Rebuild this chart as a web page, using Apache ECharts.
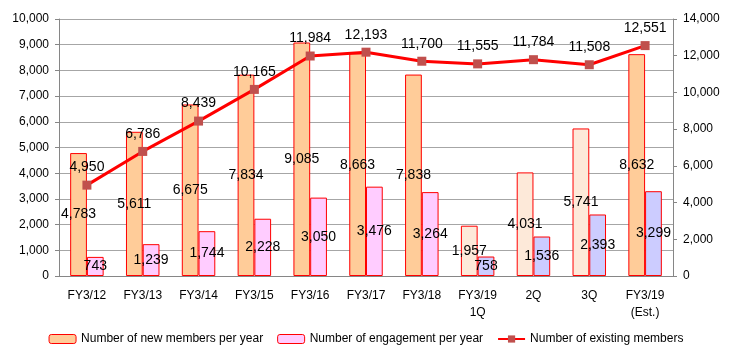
<!DOCTYPE html>
<html>
<head>
<meta charset="utf-8">
<script src="https://cdn.jsdelivr.net/npm/echarts@6/dist/echarts.min.js"></script>
<style>
  html, body { margin: 0; padding: 0; background: #fff; }
  #chart { width: 732px; height: 353px; }
</style>
</head>
<body>
<div id="chart"></div>
<script>
const categories = ['FY3/12', 'FY3/13', 'FY3/14', 'FY3/15', 'FY3/16', 'FY3/17', 'FY3/18', 'FY3/19\n1Q', '2Q', '3Q', 'FY3/19\n(Est.)'];
const newMembers = [4783, 5611, 6675, 7834, 9085, 8663, 7838, 1957, 4031, 5741, 8632];
const engagement = [743, 1239, 1744, 2228, 3050, 3476, 3264, 758, 1536, 2393, 3299];
const existingMembers = [4950, 6786, 8439, 10165, 11984, 12193, 11700, 11555, 11784, 11508, 12551];

// quarterly columns of FY3/19 are drawn in lighter / bluish tones
const isQuarter = (i) => i >= 7 && i <= 9;
const fmt = (v) => Number(v).toLocaleString('en-US');
const font = '"Liberation Sans", Arial, sans-serif';

const chart = echarts.init(document.getElementById('chart'), null, { renderer: 'canvas' });

chart.setOption({
  animation: false,
  textStyle: { fontFamily: font },
  grid: { left: 59, right: 59, top: 19, bottom: 77 },
  legend: {
    bottom: 3,
    left: 'center',
    itemWidth: 27,
    itemHeight: 9,
    itemGap: 14,
    textStyle: { fontSize: 12, color: '#000', fontFamily: font },
    data: [
      { name: 'Number of new members per year', itemStyle: { color: '#FFCC99', borderColor: '#FF0000', borderWidth: 1 } },
      { name: 'Number of engagement per year', itemStyle: { color: '#FFCCFF', borderColor: '#FF0000', borderWidth: 1 } },
      { name: 'Number of existing members' },
    ],
  },
  xAxis: {
    type: 'category',
    data: categories,
    axisLine: { lineStyle: { color: '#868686' } },
    axisTick: { length: 5, lineStyle: { color: '#868686' } },
    axisLabel: { color: '#000', fontSize: 12, margin: 11, lineHeight: 17, interval: 0 },
  },
  yAxis: [
    {
      type: 'value',
      min: 0,
      max: 10000,
      interval: 1000,
      axisLine: { show: true, lineStyle: { color: '#868686' } },
      axisTick: { show: true, length: 4, lineStyle: { color: '#868686' } },
      splitLine: { lineStyle: { color: '#A6A6A6' } },
      axisLabel: { color: '#000', fontSize: 12, margin: 10, formatter: fmt },
    },
    {
      type: 'value',
      min: 0,
      max: 14000,
      interval: 2000,
      axisLine: { show: true, lineStyle: { color: '#868686' } },
      axisTick: { show: true, length: 4, lineStyle: { color: '#868686' } },
      splitLine: { show: false },
      axisLabel: { color: '#000', fontSize: 12, margin: 10, formatter: fmt },
    },
  ],
  series: [
    {
      name: 'Number of new members per year',
      type: 'bar',
      yAxisIndex: 0,
      barGap: '0%',
      barCategoryGap: '40%',
      data: newMembers,
      itemStyle: {
        color: (p) => (isQuarter(p.dataIndex) ? '#FDE9D9' : '#FFCC99'),
        borderColor: '#FF0000',
        borderWidth: 1,
      },
      label: {
        show: true,
        position: 'inside',
        color: '#000',
        fontSize: 14,
        formatter: (p) => fmt(p.value),
      },
    },
    {
      name: 'Number of engagement per year',
      type: 'bar',
      yAxisIndex: 0,
      data: engagement,
      itemStyle: {
        color: (p) => (p.dataIndex >= 7 ? '#CCCCFF' : '#FFCCFF'),
        borderColor: '#FF0000',
        borderWidth: 1,
      },
      label: {
        show: true,
        position: 'inside',
        color: '#000',
        fontSize: 14,
        formatter: (p) => fmt(p.value),
      },
    },
    {
      name: 'Number of existing members',
      type: 'line',
      yAxisIndex: 1,
      data: existingMembers,
      z: 5,
      symbol: 'rect',
      symbolSize: 9,
      lineStyle: { color: '#FF0000', width: 3 },
      itemStyle: { color: '#C0504D' },
      label: {
        show: true,
        position: 'top',
        distance: 6,
        color: '#000',
        fontSize: 14,
        formatter: (p) => fmt(p.value),
      },
    },
  ],
});
</script>
</body>
</html>
